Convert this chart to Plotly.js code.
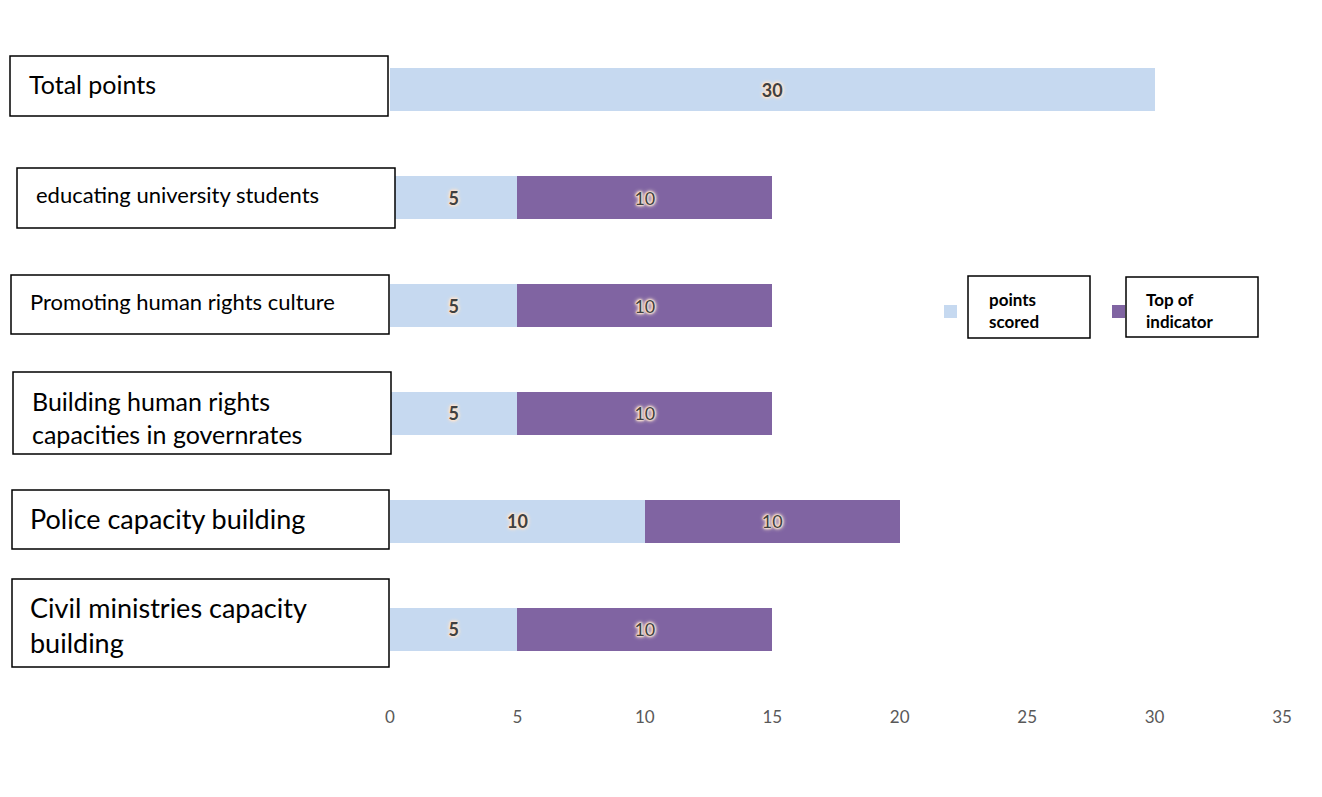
<!DOCTYPE html>
<html>
<head>
<meta charset="utf-8">
<script src="https://cdn.plot.ly/plotly-3.0.1.min.js"></script>
<style>html,body{margin:0;padding:0;background:#fff;}#chart{width:1322px;height:797px;}</style>
</head>
<body>
<div id="chart"></div>
<script>
const categories = ['Total points','educating university students','Promoting human rights culture','Building human rights capacities in governrates','Police capacity building','Civil ministries capacity building'];
const categoryLabels = ['Total points','educating university students','Promoting human rights culture','Building human rights<br>capacities in governrates','Police capacity building','Civil ministries capacity<br>building'];
const pointsScored = [30,5,5,5,10,5];
const topOfIndicator = [null,10,10,10,10,10];
const seriesNames = ['points<br>scored','Top of<br>indicator'];
const xTicks = [0,5,10,15,20,25,30,35];

const W = 1322, H = 797;
const M = {l:390, r:40, t:36, b:114};
const PW = W - M.l - M.r, PH = H - M.t - M.b;
const px = x => (x - M.l) / PW;
const py = y => (H - M.b - y) / PH;

const G = '#fbe5d3';
const glow = [`0 0 1px ${G}`,`0 0 1px ${G}`,`0 0 2px ${G}`,`0 0 2px ${G}`,`0 0 3px ${G}`,`0 0 3px ${G}`,`0 0 4px ${G}`,`0 0 5px ${G}`].join(', ');
const FONT = 'Lato, "Open Sans", sans-serif';

const traces = [
  {type:'bar', orientation:'h', y:categories, x:pointsScored, name:seriesNames[0],
   marker:{color:'#c6d9f0'}, text:pointsScored.map(String), textposition:'inside',
   insidetextanchor:'middle', constraintext:'none',
   textfont:{family:FONT, size:18, color:'#404040', weight:'bold', shadow:glow},
   hoverinfo:'x+y'},
  {type:'bar', orientation:'h', y:categories, x:topOfIndicator, name:seriesNames[1],
   marker:{color:'#8064a2'}, text:topOfIndicator.map(v => v==null ? '' : String(v)), textposition:'inside',
   insidetextanchor:'middle', constraintext:'none',
   textfont:{family:FONT, size:18, color:'#404040', weight:'normal', shadow:glow},
   hoverinfo:'x+y'}
];

// category label boxes (pixel geometry of the boxes)
const boxes = [
  {x0:10, x1:388, y0:56, y1:116, tx:27, ty:84, size:25},
  {x0:17, x1:395, y0:168, y1:228, tx:34, ty:194, size:22},
  {x0:11, x1:389, y0:275, y1:334, tx:28, ty:301, size:22},
  {x0:13, x1:391, y0:372, y1:454, tx:30, ty:417, size:25},
  {x0:12, x1:389, y0:490, y1:549, tx:28, ty:518, size:27},
  {x0:12, x1:389, y0:579, y1:667, tx:28, ty:625, size:27}
];

const shapes = [];
const annotations = [];
boxes.forEach((b, i) => {
  shapes.push({type:'rect', xref:'paper', yref:'paper', x0:px(b.x0), x1:px(b.x1), y0:py(b.y1), y1:py(b.y0),
    line:{color:'#000', width:1.5}, fillcolor:'#fff', layer:'above'});
  annotations.push({xref:'paper', yref:'paper', x:px(b.tx), y:py(b.ty), xanchor:'left', yanchor:'middle',
    text:categoryLabels[i], showarrow:false, align:'left',
    font:{family:FONT, size:b.size, color:'#000'}});
});

// custom legend
const legendItems = [
  {sq:944, box:[968,1090,276,338], tx:987, color:'#c6d9f0'},
  {sq:1112, box:[1126,1258,277,337], tx:1144, color:'#8064a2'}
];
legendItems.forEach((it, i) => {
  shapes.push({type:'rect', xref:'paper', yref:'paper', x0:px(it.sq), x1:px(it.sq+13), y0:py(318), y1:py(305),
    line:{width:0}, fillcolor:it.color});
  shapes.push({type:'rect', xref:'paper', yref:'paper', x0:px(it.box[0]), x1:px(it.box[1]), y0:py(it.box[3]), y1:py(it.box[2]),
    line:{color:'#000', width:1.5}, fillcolor:'rgba(255,255,255,0)'});
  annotations.push({xref:'paper', yref:'paper', x:px(it.tx), y:py(310), xanchor:'left', yanchor:'middle',
    text:'<b>'+seriesNames[i]+'</b>', showarrow:false, align:'left',
    font:{family:FONT, size:17, color:'#000'}});
});

const layout = {
  width:W, height:H, margin:M, paper_bgcolor:'#fff', plot_bgcolor:'#fff',
  barmode:'stack', bargap:0.6, showlegend:false,
  font:{family:FONT},
  xaxis:{range:[0,35], tickvals:xTicks, ticktext:xTicks.map(String), showgrid:false, zeroline:false,
    showline:false, ticks:'', ticklabelstandoff:22, tickfont:{family:FONT, size:17, color:'#595959'}, fixedrange:true},
  yaxis:{autorange:'reversed', showticklabels:false, showgrid:false, zeroline:false, showline:false, ticks:'', fixedrange:true},
  shapes:shapes, annotations:annotations
};

Plotly.newPlot('chart', traces, layout, {displayModeBar:false, staticPlot:true});
</script>
</body>
</html>
